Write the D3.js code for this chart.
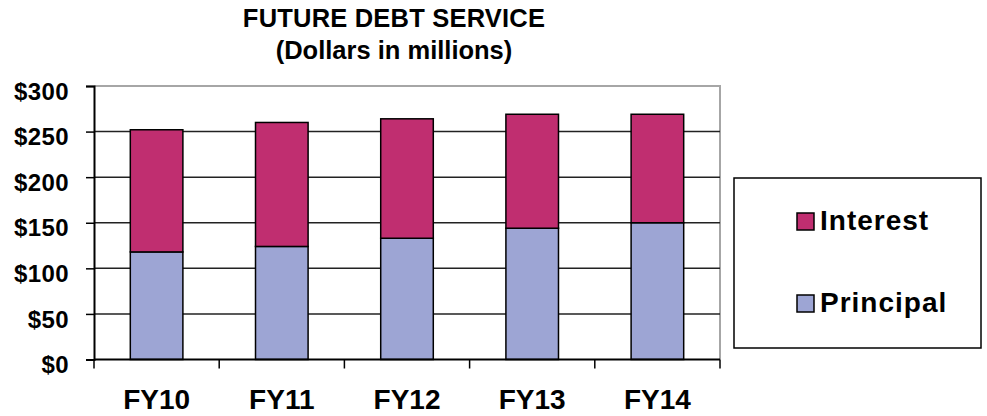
<!DOCTYPE html>
<html>
<head>
<meta charset="utf-8">
<script src="https://cdn.jsdelivr.net/npm/d3@7"></script>
<style>
  body { margin: 0; background: #fff; }
  svg text { font-family: "Liberation Sans", Arial, sans-serif; font-weight: bold; fill: #000; }
</style>
</head>
<body>
<svg id="chart"></svg>
<script>
// chart data
const years = ["FY10", "FY11", "FY12", "FY13", "FY14"];
const principal = [118, 124, 133, 144, 150];
const interest = [134, 136, 131, 125, 119];
const yTicks = [0, 50, 100, 150, 200, 250, 300];
const seriesNames = ["Interest", "Principal"];

const width = 987, height = 416;
const plot = { left: 94, right: 720, top: 86, bottom: 359.5 };
const colors = { Interest: "#c02e70", Principal: "#9da5d4" };

const svg = d3.select("#chart")
    .attr("width", width)
    .attr("height", height);

const x = d3.scaleBand()
    .domain(years)
    .range([plot.left, plot.right])
    .padding(0);

const y = d3.scaleLinear()
    .domain([0, 300])
    .range([plot.bottom, plot.top]);

// title
svg.append("text")
    .attr("x", 394).attr("y", 27)
    .attr("text-anchor", "middle")
    .style("font-size", "25.5px")
    .style("letter-spacing", "0.2px")
    .text("FUTURE DEBT SERVICE");
svg.append("text")
    .attr("x", 394).attr("y", 59)
    .attr("text-anchor", "middle")
    .style("font-size", "25.5px")
    .text("(Dollars in millions)");

// plot frame (top and right in grey)
svg.append("path")
    .attr("d", `M${plot.left},${plot.top}H${plot.right}V${plot.bottom}`)
    .attr("fill", "none")
    .attr("stroke", "#a6a6a6")
    .attr("stroke-width", 2);

// gridlines
svg.append("g")
    .selectAll("line")
    .data(yTicks.slice(1, -1))
    .join("line")
    .attr("x1", plot.left).attr("x2", plot.right)
    .attr("y1", d => y(d)).attr("y2", d => y(d))
    .attr("stroke", "#222")
    .attr("stroke-width", 1.5);

// stacked bars
const stackData = years.map((yr, i) => ({ year: yr, Principal: principal[i], Interest: interest[i] }));
const stack = d3.stack().keys(["Principal", "Interest"])(stackData);
const barW = x.bandwidth() * 0.42;

svg.append("g")
    .selectAll("g")
    .data(stack)
    .join("g")
    .attr("fill", d => colors[d.key])
    .selectAll("rect")
    .data(d => d)
    .join("rect")
    .attr("x", d => x(d.data.year) + (x.bandwidth() - barW) / 2)
    .attr("width", barW)
    .attr("y", d => y(d[1]))
    .attr("height", d => y(d[0]) - y(d[1]))
    .attr("stroke", "#000")
    .attr("stroke-width", 1.5);

// y axis
const yAxis = svg.append("g")
    .attr("transform", `translate(${plot.left},0)`)
    .call(d3.axisLeft(y)
        .tickValues(yTicks)
        .tickSize(8)
        .tickPadding(17)
        .tickFormat(d => "$" + d));
yAxis.select(".domain").attr("stroke", "#000").attr("stroke-width", 2);
yAxis.selectAll(".tick line").attr("stroke", "#000").attr("stroke-width", 1.5);
yAxis.selectAll(".tick text")
    .attr("dy", "0.55em")
    .style("font-size", "24px")
    .style("letter-spacing", "0.4px")
    .style("font-family", "'Liberation Sans', Arial, sans-serif")
    .style("font-weight", "bold");

// x axis: labels centred, ticks on category boundaries
const xAxis = svg.append("g")
    .attr("transform", `translate(0,${plot.bottom})`)
    .call(d3.axisBottom(x).tickSize(0).tickPadding(30));
xAxis.select(".domain").remove();
xAxis.selectAll(".tick text")
    .style("font-size", "28px")
    .style("font-family", "'Liberation Sans', Arial, sans-serif")
    .style("font-weight", "bold");

const bounds = years.map(d => x(d)).concat([x(years[years.length - 1]) + x.bandwidth()]);
svg.append("line")
    .attr("x1", plot.left).attr("x2", plot.right)
    .attr("y1", plot.bottom).attr("y2", plot.bottom)
    .attr("stroke", "#000").attr("stroke-width", 2);
svg.append("g")
    .selectAll("line")
    .data(bounds)
    .join("line")
    .attr("x1", d => d).attr("x2", d => d)
    .attr("y1", plot.bottom).attr("y2", plot.bottom + 9)
    .attr("stroke", "#000")
    .attr("stroke-width", 1.5);

// legend
const legend = svg.append("g");
legend.append("rect")
    .attr("x", 734).attr("y", 178)
    .attr("width", 247).attr("height", 170)
    .attr("fill", "#fff")
    .attr("stroke", "#000")
    .attr("stroke-width", 1.5);

const items = legend.selectAll("g.item")
    .data(seriesNames)
    .join("g")
    .attr("class", "item")
    .attr("transform", (d, i) => `translate(797,${213 + i * 82})`);
items.append("rect")
    .attr("width", 17).attr("height", 17)
    .attr("fill", d => colors[d])
    .attr("stroke", "#000")
    .attr("stroke-width", 1.5);
items.append("text")
    .attr("x", 23).attr("y", 17)
    .style("font-size", "28px")
    .style("letter-spacing", "1px")
    .text(d => d);
</script>
</body>
</html>
